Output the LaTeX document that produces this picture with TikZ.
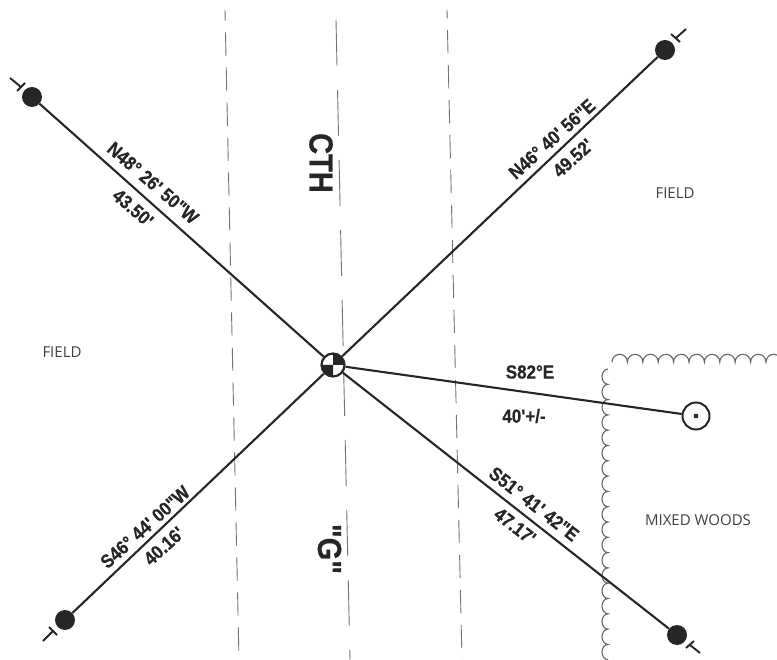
\documentclass[tikz,border=0pt]{standalone}
\usepackage{fontspec}
\newfontfamily\lblfont[BoldFeatures={FakeBold=0.5}]{Liberation Sans}
\newfontfamily\lightfont{Open Sans}
\newcommand{\tall}[1]{\scalebox{1}[1.12]{#1}}
\tikzset{
  x=1pt,y=-1pt,
  leg/.style={line width=2.1pt,draw=black!85},
  tick/.style={line width=1.9pt,draw=black!85},
  dot/.style={circle,fill=black!85,inner sep=0pt,minimum size=20pt},
  roadside/.style={line width=0.9pt,draw=black!55,dash pattern=on 23.3pt off 11.7pt},
  roadmid/.style={line width=0.9pt,draw=black!55,dash pattern=on 46pt off 24pt},
  scallop/.style={line width=1.1pt,draw=black!60},
  brg/.style={font=\lblfont\fontsize{17}{17}\selectfont\bfseries,text=black!85,inner sep=0pt},
  big/.style={font=\lblfont\fontsize{29}{29}\selectfont\bfseries,text=black!85,inner sep=0pt},
  area/.style={font=\lightfont\fontsize{15}{15}\selectfont,text=black!75,inner sep=0pt},
}
\begin{document}
\begin{tikzpicture}
\useasboundingbox (0,0) rectangle (777,660);
\fill[white] (0,0) rectangle (777,660);
% road lines
\coordinate (la) at (225,10); \coordinate (lb) at (239,660);
\coordinate (ra) at (447,10); \coordinate (rb) at (462,660);
\coordinate (ca) at (336,20); \coordinate (cd) at (350,660);
\draw[roadside,dash phase=12.5pt] (la) -- (lb);
\draw[roadside,dash phase=15pt] (ra) -- (rb);
\draw[roadmid] (ca) -- (cd);
% scallops
\draw[scallop] (612,362)
  \foreach \i in {1,...,11} { arc[start angle=180,end angle=360,radius=7.7] };
\draw[scallop] (608,369)
  \foreach \i in {1,...,19} { arc[start angle=270,end angle=90,x radius=6,y radius=7.65] };
% nodes
\node[dot] (nw) at (32,97) {};
\node[dot] (ne) at (665,50) {};
\node[dot] (sw) at (65,620) {};
\node[dot] (se) at (677,635) {};
\node[circle,draw=black!85,line width=2pt,fill=white,minimum size=27pt,inner sep=0pt] (wit) at (696,416) {};
\fill[black!85] (wit.center) circle (2.4);
\node[circle,inner sep=0pt,minimum size=25pt] (pt) at (333,365) {};
% legs
\draw[leg] (pt) -- (nw);
\draw[leg] (pt) -- (ne);
\draw[leg] (pt) -- (sw);
\draw[leg] (pt) -- (se);
\draw[leg] (pt) -- (wit);
% section corner symbol
\draw[line width=2.2pt,draw=black!85,fill=white] (pt.center) circle (11.5);
\fill[black!85] (pt.center) -- ++(0,-11.5) arc[start angle=-90,end angle=0,radius=11.5] -- cycle;
\fill[black!85] (pt.center) -- ++(0,11.5) arc[start angle=90,end angle=180,radius=11.5] -- cycle;
% end ticks
\draw[tick] (17,91) -- (25,83) (21,87) -- (10,78);
\draw[tick] (671,34) -- (680,42) (676,38) -- (686,29);
\draw[tick] (49,627) -- (57,635) (53,631) -- (43,641);
\draw[tick] (686,648) -- (694,641) (690,645) -- (700,653);
% labels
\node[brg,rotate=-41] at (153,183) {\tall{N48° 26' 50"W}};
\node[brg,rotate=-41] at (133,208) {\tall{43.50'}};
\node[brg,rotate=42] at (552,139) {\tall{N46° 40' 56"E}};
\node[brg,rotate=42] at (573,158) {\tall{49.52'}};
\node[brg,rotate=42] at (145,527) {\tall{S46° 44' 00"W}};
\node[brg,rotate=42] at (164,546) {\tall{40.16'}};
\node[brg,rotate=-38] at (534,504) {\tall{S51° 41' 42"E}};
\node[brg,rotate=-38] at (515,526) {\tall{47.17'}};
\node[brg] at (530,372) {\tall{S82°E}};
\node[brg] at (524,416) {\tall{40'+/-}};
\node[big,rotate=-90] at (321,163) {\scalebox{1}[1.15]{CTH}};
\node[big,rotate=-90] at (329.5,549) {\scalebox{1}[1.15]{"G"}};
\node[area] at (62,352) {FIELD};
\node[area] at (675,193) {FIELD};
\node[area] at (698,520) {MIXED WOODS};
\end{tikzpicture}
\end{document}
